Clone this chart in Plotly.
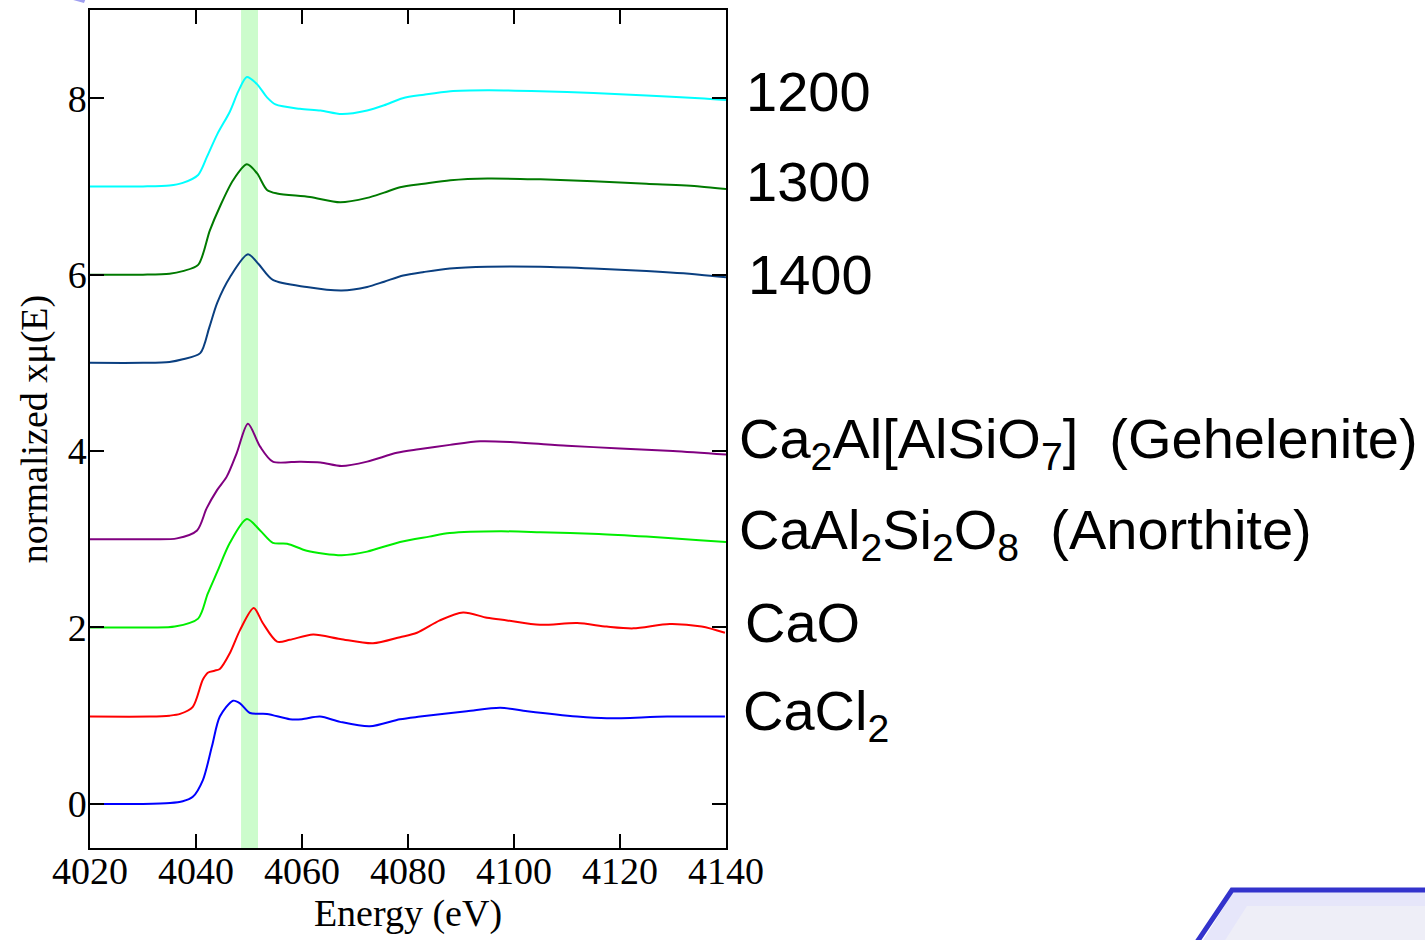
import plotly.graph_objects as go

# ---------------- data ----------------
E_1200 = [4020, 4030, 4035, 4037.5, 4040.4, 4042.1, 4044.0, 4046.4, 4048.0, 4049.6, 4051.5, 4053.4, 4055.0,
          4059.6, 4063.5, 4067.5, 4072.3, 4075.5, 4079.0, 4083.0, 4088.0, 4095.0, 4105.0, 4115.0, 4125.0,
          4135.0, 4140.0]
V_1200 = [7.00, 7.00, 7.01, 7.04, 7.13, 7.34, 7.59, 7.85, 8.08, 8.24, 8.16, 8.01, 7.93, 7.88, 7.86, 7.82,
          7.86, 7.92, 8.00, 8.04, 8.08, 8.09, 8.08, 8.06, 8.03, 8.00, 7.98]

E_1300 = [4020, 4030, 4035, 4037.5, 4040.4, 4042.6, 4044.5, 4047.0, 4049.6, 4051.5, 4053.4, 4055.3, 4061.5,
          4067.2, 4072.3, 4075.5, 4078.5, 4083.0, 4088.0, 4095.0, 4105.0, 4115.0, 4125.0, 4135.0, 4140.0]
V_1300 = [6.00, 6.00, 6.01, 6.04, 6.11, 6.50, 6.77, 7.07, 7.25, 7.15, 6.96, 6.92, 6.88, 6.82, 6.87, 6.93,
          6.99, 7.03, 7.07, 7.09, 7.08, 7.06, 7.03, 7.00, 6.97]

E_1400 = [4020, 4030, 4035, 4037.5, 4040.8, 4042.5, 4044.0, 4046.4, 4049.8, 4051.8, 4054.5, 4060.9, 4067.5,
          4072.3, 4075.5, 4079.1, 4083.0, 4087.9, 4095.0, 4105.0, 4115.0, 4125.0, 4135.0, 4140.0]
V_1400 = [5.00, 5.00, 5.01, 5.04, 5.11, 5.40, 5.68, 5.97, 6.23, 6.12, 5.94, 5.86, 5.82, 5.86, 5.92, 5.99,
          6.03, 6.07, 6.09, 6.09, 6.07, 6.04, 6.00, 5.97]

E_geh = [4020, 4031.3, 4036.4, 4040.2, 4042.0, 4044.0, 4045.8, 4047.7, 4049.8, 4052.1, 4054.5, 4059.6,
         4063.5, 4067.5, 4072.3, 4077.9, 4082.0, 4087.9, 4093.6, 4100.0, 4110.0, 4120.0, 4130.0, 4140.0]
V_geh = [3.00, 3.00, 3.01, 3.10, 3.35, 3.56, 3.71, 3.98, 4.31, 4.05, 3.88, 3.88, 3.87, 3.83, 3.88, 3.98,
         4.02, 4.07, 4.11, 4.10, 4.06, 4.03, 4.00, 3.96]

E_ano = [4020, 4031.3, 4036.0, 4040.4, 4042.2, 4044.0, 4046.4, 4049.6, 4052.1, 4054.5, 4057.2, 4060.9,
         4067.5, 4072.3, 4078.5, 4084.0, 4087.9, 4097.4, 4105.0, 4116.0, 4125.0, 4135.0, 4140.0]
V_ano = [2.00, 2.00, 2.01, 2.10, 2.38, 2.63, 2.96, 3.23, 3.10, 2.96, 2.95, 2.87, 2.82, 2.86, 2.97, 3.03,
         3.07, 3.09, 3.08, 3.06, 3.03, 2.99, 2.97]

E_cao = [4020, 4031.3, 4035.0, 4037.0, 4039.4, 4041.3, 4042.3, 4043.5, 4044.5, 4046.4, 4048.3, 4050.9,
         4052.6, 4055.3, 4057.7, 4062.1, 4067.2, 4073.4, 4078.5, 4081.7, 4086.0, 4090.4, 4094.9, 4098.7,
         4104.9, 4111.9, 4117.5, 4122.5, 4129.4, 4135.4, 4139.8]
V_cao = [0.99, 0.99, 1.00, 1.02, 1.10, 1.41, 1.49, 1.51, 1.53, 1.71, 1.97, 2.22, 2.05, 1.84, 1.86, 1.92,
         1.87, 1.82, 1.89, 1.94, 2.08, 2.17, 2.11, 2.08, 2.03, 2.05, 2.01, 1.99, 2.04, 2.01, 1.94]

E_cacl = [4020, 4030, 4035.1, 4037.5, 4039.4, 4041.3, 4043.0, 4044.5, 4047.0, 4048.3, 4050.2, 4053.4,
          4057.7, 4060.0, 4063.4, 4067.2, 4072.8, 4078.5, 4082.3, 4091.1, 4097.4, 4102.5, 4111.9, 4117.5,
          4128.9, 4139.8]
V_cacl = [0.00, 0.00, 0.01, 0.03, 0.08, 0.27, 0.65, 0.99, 1.17, 1.14, 1.03, 1.02, 0.96, 0.96, 0.99, 0.93,
          0.88, 0.96, 0.99, 1.05, 1.09, 1.05, 0.99, 0.97, 0.99, 0.99]

series_names = ["1200", "1300", "1400", "Ca<sub>2</sub>Al[AlSiO<sub>7</sub>]  (Gehelenite)",
                "CaAl<sub>2</sub>Si<sub>2</sub>O<sub>8</sub>  (Anorthite)", "CaO", "CaCl<sub>2</sub>"]
series_E = [E_1200, E_1300, E_1400, E_geh, E_ano, E_cao, E_cacl]
series_V = [V_1200, V_1300, V_1400, V_geh, V_ano, V_cao, V_cacl]
series_colors = ["#00ffff", "#007a00", "#0a3f80", "#800080", "#00ee00", "#ff0000", "#0000ff"]
label_y = [8.08, 7.06, 6.0, 4.10, 3.06, 2.06, 1.01]
label_x = [1.028, 1.028, 1.031, 1.018, 1.018, 1.026, 1.023]

band = [4048.5, 4051.7]
x_range = [4020, 4140]
y_range = [-0.5, 9.0]
x_ticks = [4020, 4040, 4060, 4080, 4100, 4120, 4140]
y_ticks = [0, 2, 4, 6, 8]

# ---------------- figure ----------------
W, H = 1425, 940
ML, MR, MT, MB = 90, 699, 10, 92
PW, PH = W - ML - MR, H - MT - MB

def px(x):
    return (x - ML) / PW

def py(y):
    return (H - MB - y) / PH

fig = go.Figure()
for name, e, v, c in zip(series_names, series_E, series_V, series_colors):
    fig.add_trace(go.Scatter(x=e, y=v, mode="lines", name=name,
                             line=dict(color=c, width=2, shape="spline", smoothing=0.8),
                             showlegend=False, hoverinfo="skip"))

shapes = [
    dict(type="rect", xref="x", yref="paper", x0=band[0], x1=band[1], y0=0, y1=1,
         fillcolor="#ccfccc", line=dict(width=0), layer="below"),
    # slide decorations
    dict(type="path", xref="paper", yref="paper",
         path=f"M {px(1200)},{py(945)} L {px(1234)},{py(891)} L {px(1430)},{py(891)} L {px(1430)},{py(945)} Z",
         fillcolor="#e6e6fa", line=dict(width=0)),
    dict(type="path", xref="paper", yref="paper",
         path=f"M {px(1222)},{py(945)} L {px(1247)},{py(906)} L {px(1430)},{py(906)} L {px(1430)},{py(945)} Z",
         fillcolor="#eeeef7", line=dict(width=0)),
    dict(type="path", xref="paper", yref="paper",
         path=f"M {px(1197)},{py(942)} L {px(1232)},{py(890)} L {px(1430)},{py(890)}",
         line=dict(color="#3333cc", width=5)),
    dict(type="path", xref="paper", yref="paper",
         path=f"M {px(66)},{py(-2)} L {px(86)},{py(-2)} L {px(84)},{py(3)} Z",
         fillcolor="#9f9ff0", line=dict(width=0)),
]

annotations = []
for name, xx, yy in zip(series_names, label_x, label_y):
    annotations.append(dict(text=name, xref="paper", yref="y", x=xx, y=yy, xanchor="left",
                            yanchor="middle", showarrow=False,
                            font=dict(family="Liberation Sans, Arial, sans-serif", size=56, color="black")))

serif = "Liberation Serif, Times New Roman, serif"
axis_common = dict(showline=True, mirror="ticks", linecolor="black", linewidth=1.5,
                   ticks="inside", ticklen=14, tickwidth=1.5, tickcolor="black",
                   showgrid=False, zeroline=False,
                   tickfont=dict(family=serif, size=38, color="black"))

fig.update_layout(
    width=W, height=H,
    margin=dict(l=ML, r=MR, t=MT, b=MB, autoexpand=False),
    paper_bgcolor="white", plot_bgcolor="white",
    shapes=shapes, annotations=annotations,
    xaxis=dict(range=x_range, tickvals=x_ticks, ticktext=[str(t) for t in x_ticks],
               ticklabelstandoff=-11,
               title=dict(text="Energy (eV)", font=dict(family=serif, size=38, color="black"), standoff=8),
               **axis_common),
    yaxis=dict(range=y_range, tickvals=y_ticks, ticktext=[str(t) for t in y_ticks],
               ticklabelstandoff=-6,
               title=dict(text="normalized xμ(E)", font=dict(family=serif, size=38, color="black"), standoff=8),
               **axis_common),
)

fig.write_html("out.html")
